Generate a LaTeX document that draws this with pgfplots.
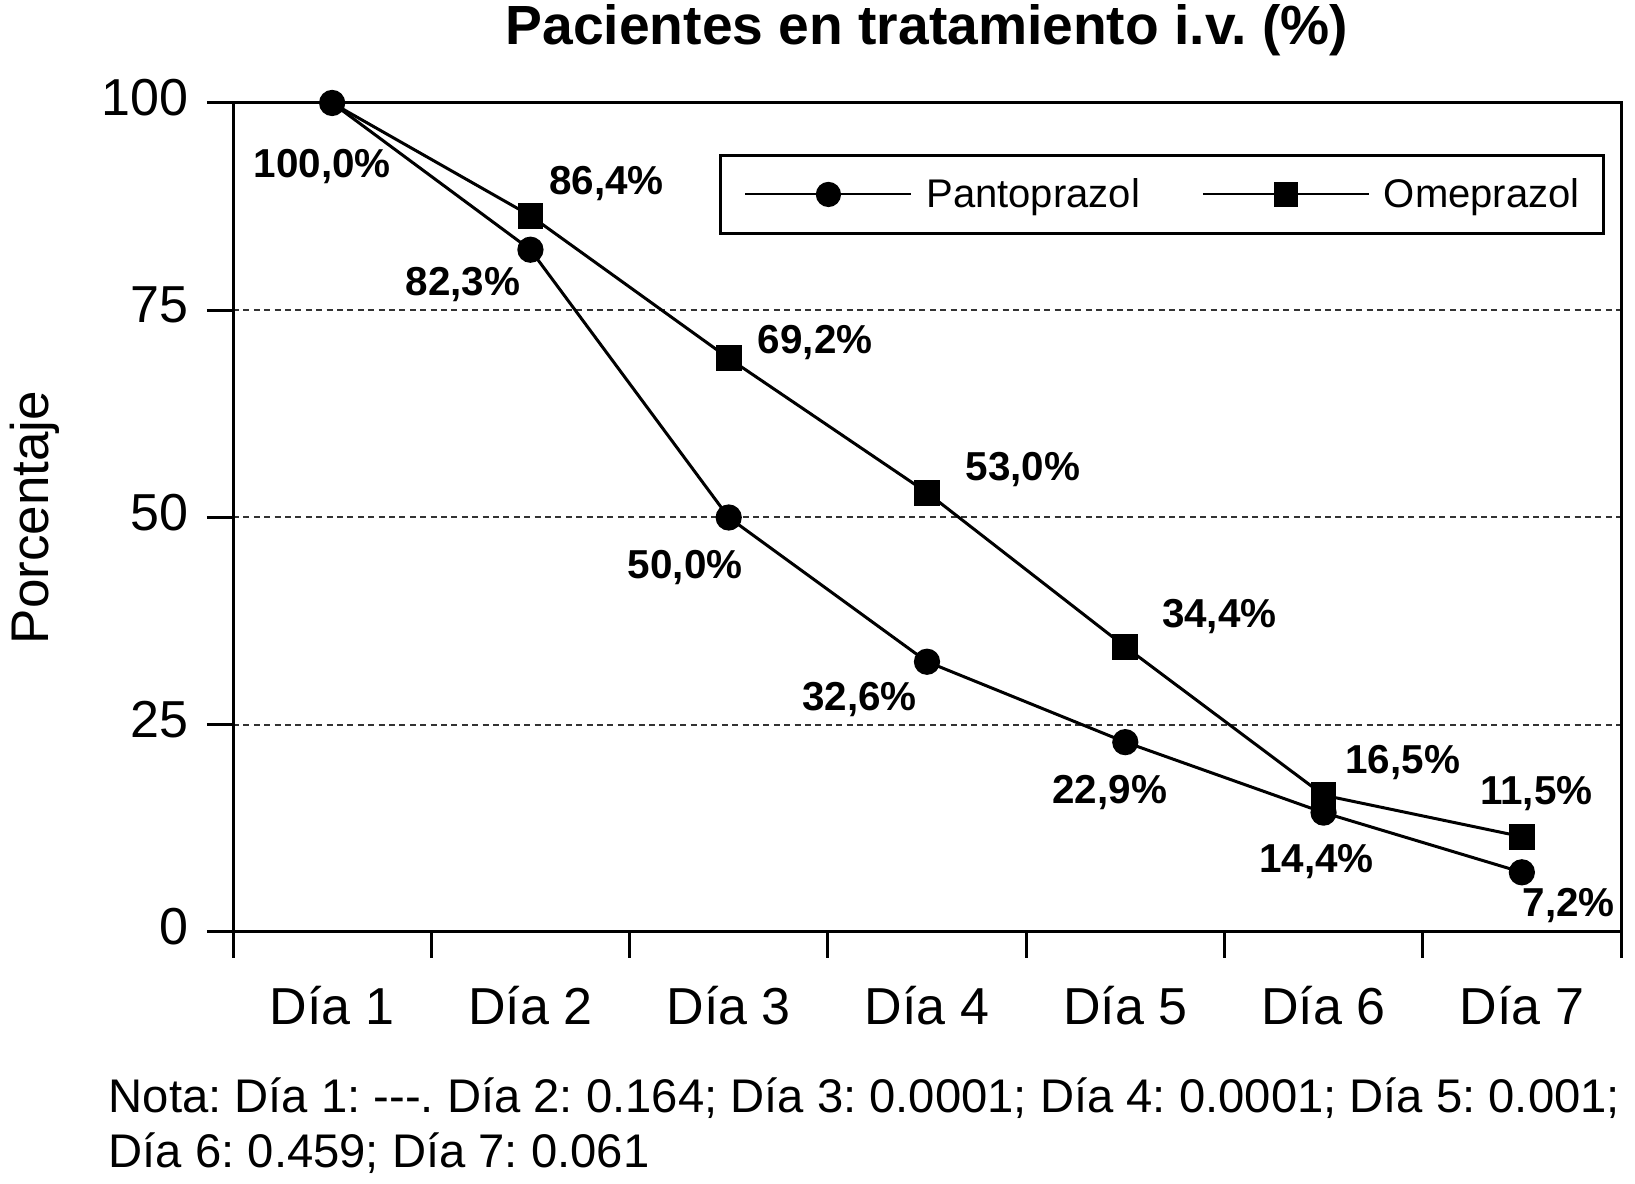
\documentclass[border=0pt]{standalone}
\usepackage{fontspec}
\setmainfont{Liberation Sans}
\usepackage{pgfplots}
\pgfplotsset{compat=1.18}
\frenchspacing

\pgfplotsset{
  lbl/.style={
    nodes near coords={\pgfplotspointmeta},
    point meta=explicit symbolic,
    visualization depends on={\thisrow{dx}\as\dx},
    visualization depends on={\thisrow{dy}\as\dy},
    every node near coord/.append style={anchor=center, xshift=\dx pt, yshift=\dy pt,
      font=\bfseries\fontsize{10.1}{12}\selectfont, text depth=0pt, inner sep=0pt},
  },
}

\begin{document}
\begin{tikzpicture}
\begin{axis}[
  scale only axis,
  width=347pt, height=207.25pt,
  xmin=0, xmax=7, ymin=0, ymax=100,
  xtick={0,...,7},
  xticklabels={Día 1,Día 2,Día 3,Día 4,Día 5,Día 6,Día 7},
  x tick label as interval,
  ytick={0,25,50,75,100},
  tick pos=left,
  tick align=outside,
  major tick length=6.5pt,
  /pgf/number format/assume math mode=true,
  tick label style={font=\fontsize{13}{15}\selectfont},
  xticklabel style={yshift=-3.4pt},
  yticklabel style={xshift=-1.2pt, yshift=1.25pt},
  axis line style={line width=0.75pt},
  major tick style={line width=0.75pt, black},
  ymajorgrids,
  major grid style={line width=0.5pt, black!80, dash pattern=on 1.5pt off 1.1pt},
  title={Pacientes en tratamiento i.v. (\%)},
  title style={at={(axis description cs:0.5,1.041)}, anchor=base, yshift=0pt,
    font=\bfseries\fontsize{13.8}{16}\selectfont},
  ylabel={Porcentaje},
  ylabel style={at={(axis description cs:-0.1326,0.5)}, anchor=base,
    font=\fontsize{13.25}{16}\selectfont},
  clip=false,
  legend columns=2,
  legend cell align=left,
  legend style={at={(axis description cs:0.3501,0.9385)}, anchor=north west,
    draw=black, line width=0.75pt, inner xsep=6pt, inner ysep=5pt,
    font=\fontsize{10}{12}\selectfont,
    nodes={inner sep=0pt, text height=8pt, text depth=1.5pt},
    /tikz/every odd column/.append style={column sep=3.5pt},
    /tikz/every even column/.append style={column sep=15.5pt}},
  legend image code/.code={
    \draw[#1, mark indices={2}, line width=0.5pt]
      plot coordinates {(0pt,0pt) (20.75pt,0pt) (41.5pt,0pt)};},
]
\addplot[black, line width=0.75pt, mark=*, mark size=2.9pt, lbl]
  table[x=x, y=y, meta=lab] {
x   y    dx     dy    lab
0.5 100  -2.5   -15.1 100,0\%
1.5 82.3 -16.9  -7.8  82,3\%
2.5 50.0 -10.9  -11.7 50,0\%
3.5 32.6 -16.9  -8.6  32,6\%
4.5 22.9 -3.9   -11.7 22,9\%
5.5 14.4 -1.8   -11.5 14,4\%
6.5 7.2  11.75  -7.5  7,2\%
};
\addlegendentry{Pantoprazol}
\addplot[black, line width=0.75pt, mark=square*, mark size=2.85pt,
  mark indices={2,3,4,5,6,7}, lbl]
  table[x=x, y=y, meta=lab] {
x   y    dx    dy   lab
0.5 100  0     0    {}
1.5 86.4 19.0  8.9  86,4\%
2.5 69.2 21.6  4.7  69,2\%
3.5 53.0 24.0  6.5  53,0\%
4.5 34.4 23.5  8.3  34,4\%
5.5 16.5 19.8  8.9  16,5\%
6.5 11.5 3.6   11.5 11,5\%
};
\addlegendentry{Omeprazol}
\end{axis}
\node[anchor=base west, inner sep=0pt, font=\fontsize{11.8}{13.75}\selectfont]
  at (-31.25pt,-45.25pt) {Nota: Día 1: -{}-{}-. Día 2: 0.164; Día 3: 0.0001; Día 4: 0.0001; Día 5: 0.001;};
\node[anchor=base west, inner sep=0pt, font=\fontsize{11.8}{13.75}\selectfont]
  at (-31.25pt,-59pt) {Día 6: 0.459; Día 7: 0.061};
\pgfresetboundingbox
\path (-58.25pt,-63pt) rectangle (350.5pt,233pt);
\end{tikzpicture}
\end{document}
